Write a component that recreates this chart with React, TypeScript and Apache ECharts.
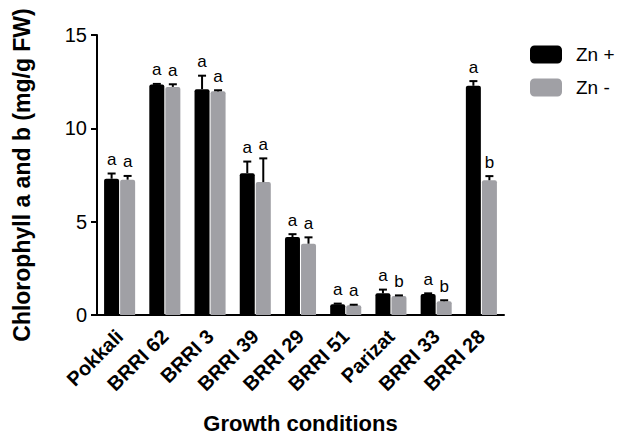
import React, { useEffect, useRef } from 'react';
import * as echarts from 'echarts';

const categories = ['Pokkali', 'BRRI 62', 'BRRI 3', 'BRRI 39', 'BRRI 29', 'BRRI 51', 'Parizat', 'BRRI 33', 'BRRI 28'];
const znPlus = [7.3, 12.35, 12.1, 7.6, 4.18, 0.58, 1.16, 1.12, 12.28];
const znPlusErr = [0.28, 0.03, 0.72, 0.62, 0.15, 0.03, 0.2, 0.04, 0.25];
const znMinus = [7.25, 12.22, 11.98, 7.12, 3.82, 0.52, 1.02, 0.74, 7.22];
const znMinusErr = [0.2, 0.14, 0.06, 1.27, 0.34, 0.03, 0.03, 0.05, 0.22];
const lettersPlus = ['a', 'a', 'a', 'a', 'a', 'a', 'a', 'a', 'a'];
const lettersMinus = ['a', 'a', 'a', 'a', 'a', 'a', 'b', 'b', 'b'];
const yTicks = { min: 0, max: 15, interval: 5 };

const FONT = '"Liberation Sans", Arial, Helvetica, sans-serif';
const BAR_W = 15;
const HALF = 8;

function errSeries(name: string, vals: number[], errs: number[], letters: string[], side: number) {
  return {
    type: 'custom',
    name,
    z: 5,
    encode: { x: 0, y: 1 },
    data: vals.map((v, i) => [i, v, errs[i]]),
    renderItem: (params: any, api: any) => {
      const idx = api.value(0);
      const v = api.value(1);
      const e = api.value(2);
      const base = api.coord([idx, v]);
      const top = api.coord([idx, v + e]);
      const x = base[0] + side * HALF;
      return {
        type: 'group',
        children: [
          { type: 'line', shape: { x1: x, y1: base[1], x2: x, y2: top[1] }, style: { stroke: '#000', lineWidth: 2 } },
          { type: 'line', shape: { x1: x - 4, y1: top[1], x2: x + 4, y2: top[1] }, style: { stroke: '#000', lineWidth: 2 } },
          {
            type: 'text',
            x,
            y: top[1] - 14,
            style: { text: letters[params.dataIndex], fill: '#000', font: `17px ${FONT}`, align: 'center', verticalAlign: 'middle' },
          },
        ],
      };
    },
  };
}

export default function App() {
  const ref = useRef<HTMLDivElement>(null);
  useEffect(() => {
    document.body.style.margin = '0';
    const chart = echarts.init(ref.current!, null, { renderer: 'svg' });
    chart.setOption({
      animation: false,
      backgroundColor: '#fff',
      textStyle: { fontFamily: FONT },
      grid: { left: 97, top: 35, width: 407, height: 280, containLabel: false, outerBoundsMode: 'none' },
      legend: {
        data: ['Zn +', 'Zn -'],
        orient: 'vertical',
        left: 530,
        top: 45,
        itemWidth: 32,
        itemHeight: 18,
        itemGap: 14,
        icon: 'roundRect',
        padding: 0,
        textStyle: { fontSize: 19, color: '#000', fontFamily: FONT, padding: [0, 0, 0, 9] },
      },
      xAxis: {
        type: 'category',
        data: categories,
        name: 'Growth conditions',
        nameLocation: 'middle',
        nameGap: 97,
        nameTextStyle: { fontSize: 22, fontWeight: 'bold', color: '#000', fontFamily: FONT },
        axisLine: { lineStyle: { color: '#000', width: 2 } },
        axisTick: { alignWithLabel: true, length: 6, lineStyle: { color: '#000', width: 2 } },
        axisLabel: { rotate: 45, interval: 0, fontSize: 20, fontWeight: 'bold', color: '#000', margin: 18, fontFamily: FONT },
      },
      yAxis: {
        type: 'value',
        min: yTicks.min,
        max: yTicks.max,
        interval: yTicks.interval,
        name: 'Chlorophyll a and b (mg/g FW)',
        nameLocation: 'middle',
        nameGap: 64,
        nameTextStyle: { fontSize: 23, fontWeight: 'bold', color: '#000', fontFamily: FONT },
        axisLine: { show: true, lineStyle: { color: '#000', width: 2 } },
        axisTick: { show: true, length: 6, lineStyle: { color: '#000', width: 2 } },
        splitLine: { show: false },
        axisLabel: { fontSize: 20, color: '#000', margin: 10, fontFamily: FONT },
      },
      series: [
        {
          type: 'bar',
          name: 'Zn +',
          data: znPlus,
          barWidth: BAR_W,
          barGap: '7%',
          itemStyle: { color: '#000', borderRadius: [2, 2, 0, 0] },
        },
        {
          type: 'bar',
          name: 'Zn -',
          data: znMinus,
          barWidth: BAR_W,
          barGap: '7%',
          itemStyle: { color: '#a0a0a5', borderRadius: [2, 2, 0, 0] },
        },
        errSeries('errPlus', znPlus, znPlusErr, lettersPlus, -1),
        errSeries('errMinus', znMinus, znMinusErr, lettersMinus, 1),
      ],
    });
    return () => chart.dispose();
  }, []);
  return <div ref={ref} style={{ width: 622, height: 434 }} />;
}
